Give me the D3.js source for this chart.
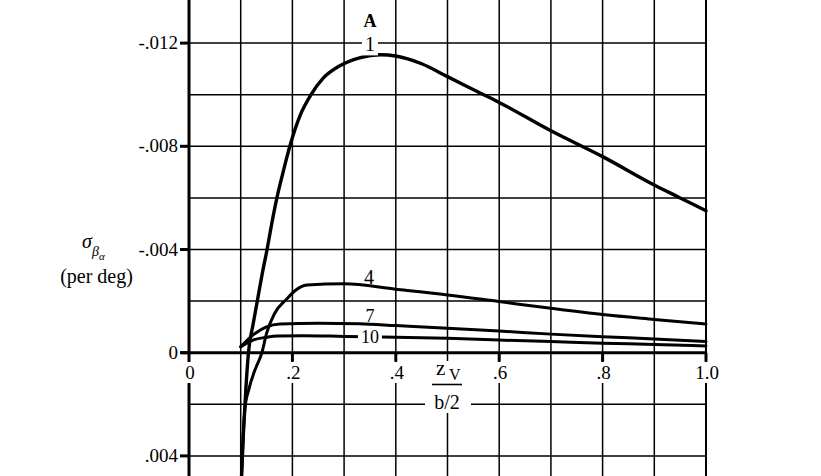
<!DOCTYPE html>
<html><head><meta charset="utf-8">
<script src="https://cdn.jsdelivr.net/npm/d3@7"></script>
<style>
body{margin:0;background:#fff}
svg{display:block;background:#fff}
text{font-family:"Liberation Serif","Times New Roman",serif;fill:#000}
</style>
</head><body>
<svg id="c" width="821" height="476"></svg>
<script>
// ---- data ----
const xTicks = [0, 0.2, 0.4, 0.6, 0.8, 1.0];
const xTickLabels = ["0", ".2", ".4", ".6", ".8", "1.0"];
const yTicks = [-0.012, -0.008, -0.004, 0, 0.004];
const yTickLabels = ["-.012", "-.008", "-.004", "0", ".004"];
const xGrid = [0.1, 0.2, 0.3, 0.4, 0.5, 0.6, 0.7, 0.8, 0.9, 1.0];
const yGrid = [-0.014, -0.012, -0.010, -0.008, -0.006, -0.004, -0.002, 0.002, 0.004, 0.006];
const seriesNames = ["1", "4", "7", "10"];
const curve1 = [[0.100,0.0056],[0.105,0.0032],[0.110,0.0014],[0.115,0.0000],[0.124,-0.0011],[0.133,-0.0021],[0.142,-0.0031],[0.151,-0.0040],[0.160,-0.0050],[0.170,-0.0060],[0.182,-0.0070],[0.195,-0.0080],[0.215,-0.0092],[0.236,-0.0100],[0.260,-0.01065],[0.290,-0.0111],[0.330,-0.01143],[0.370,-0.01155],[0.400,-0.0115],[0.450,-0.0112],[0.500,-0.0107],[0.570,-0.0100],[0.600,-0.0097],[0.700,-0.0086],[0.800,-0.0076],[0.900,-0.0065],[0.950,-0.0060],[1.000,-0.0055]];
const curve4 = [[0.100,0.0056],[0.108,0.0022],[0.116,0.0014],[0.127,0.0007],[0.141,0.0000],[0.150,-0.00075],[0.165,-0.0015],[0.190,-0.0021],[0.205,-0.0024],[0.228,-0.00262],[0.300,-0.00267],[0.400,-0.00246],[0.500,-0.00224],[0.600,-0.00198],[0.700,-0.00172],[0.800,-0.00148],[0.900,-0.00129],[1.000,-0.00111]];
const curve7 = [[0.100,-0.00023],[0.124,-0.00069],[0.150,-0.0010],[0.176,-0.00111],[0.250,-0.00114],[0.330,-0.00112],[0.400,-0.00105],[0.500,-0.00095],[0.600,-0.00084],[0.700,-0.00072],[0.800,-0.00062],[0.900,-0.00053],[1.000,-0.00043]];
const curve10 = [[0.100,-0.00023],[0.124,-0.00049],[0.150,-0.0006],[0.170,-0.00065],[0.220,-0.00066],[0.300,-0.00063],[0.400,-0.0006],[0.500,-0.00056],[0.600,-0.00049],[0.700,-0.00043],[0.800,-0.00037],[0.900,-0.00032],[1.000,-0.00026]];
const curves = [curve1, curve4, curve7, curve10];
// label anchors (data units)
const labelX = [0.350, 0.348, 0.350, 0.350];
const labelY = [-0.01195, -0.00294, -0.00147, -0.00066];
const headerLabel = "A";

// ---- drawing ----
const svg = d3.select("#c");
const x = d3.scaleLinear().domain([0, 1]).range([189, 706]);
const y = d3.scaleLinear().domain([0, 0.004]).range([352.7, 455.9]);
const yTop = -0.014, yBot = 0.006;

const g = svg.append("g");
// grid
g.selectAll("line.vg").data(xGrid).join("line")
  .attr("x1", d => x(d)).attr("x2", d => x(d))
  .attr("y1", y(yTop)).attr("y2", y(yBot))
  .attr("stroke", "#000").attr("stroke-width", d => d === 1 ? 2 : 1.5);
g.selectAll("line.hg").data(yGrid).join("line")
  .attr("x1", x(0)).attr("x2", x(1))
  .attr("y1", d => y(d)).attr("y2", d => y(d))
  .attr("stroke", "#000").attr("stroke-width", 1.5);

// axes lines
g.append("line").attr("x1", x(0)).attr("x2", x(0)).attr("y1", y(yTop)).attr("y2", y(yBot))
  .attr("stroke", "#000").attr("stroke-width", 3);
g.append("line").attr("x1", x(0) - 8).attr("x2", x(1) + 1).attr("y1", y(0)).attr("y2", y(0))
  .attr("stroke", "#000").attr("stroke-width", 3);

function bgText(sel, str, px, py, size, opts = {}) {
  const t = sel.append("text").attr("x", px).attr("y", py)
    .attr("font-size", size).attr("text-anchor", opts.anchor || "middle")
    .attr("font-weight", opts.weight || "normal").text(str);
  if (opts.bg) {
    const b = t.node().getBBox();
    const p = opts.pad || 1;
    sel.insert("rect", () => t.node())
      .attr("x", b.x - p).attr("y", b.y + (opts.padTop || 0)).attr("width", b.width + 2 * p)
      .attr("height", b.height - (opts.padTop || 0)).attr("fill", "#fff");
  }
  return t;
}

// x ticks
const xt = svg.append("g");
xTicks.forEach((v, i) => {
  if (v > 0) xt.append("line").attr("x1", x(v)).attr("x2", x(v)).attr("y1", y(0)).attr("y2", y(0) + 9)
    .attr("stroke", "#000").attr("stroke-width", 3);
  bgText(xt, xTickLabels[i], x(v) + 1, 379, 19, { bg: true, pad: 1 });
});
// y ticks
const yt = svg.append("g");
yTicks.forEach((v, i) => {
  yt.append("line").attr("x1", x(0) - 9).attr("x2", x(0)).attr("y1", y(v)).attr("y2", y(v))
    .attr("stroke", "#000").attr("stroke-width", 3);
  yt.append("text").attr("x", x(0) - 11).attr("y", y(v) + 6).attr("text-anchor", "end")
    .attr("font-size", 19).text(yTickLabels[i]);
});

// curves
const line = d3.line().x(d => x(d[0])).y(d => y(d[1])).curve(d3.curveMonotoneX);
svg.append("g").selectAll("path").data(curves).join("path")
  .attr("d", line).attr("fill", "none").attr("stroke", "#000")
  .attr("stroke-width", (d, i) => i === 0 ? 3.4 : 3).attr("stroke-linecap", "round");

// curve labels
const lg = svg.append("g");
const labelSize = [20, 20, 18, 18];
seriesNames.forEach((s, i) => {
  bgText(lg, s, x(labelX[i]), y(labelY[i]) + 7, labelSize[i], { bg: i === 0 || i === 3, pad: 3, padTop: 4 });
});
bgText(lg, headerLabel, x(0.35), 27, 18, { weight: "bold" });

// axis titles
const at = svg.append("g");
at.append("rect").attr("x", 425).attr("y", 361).attr("width", 46).attr("height", 52).attr("fill", "#fff");
at.append("text").attr("x", 436).attr("y", 375).attr("font-size", 21).text("z");
at.append("text").attr("x", 449).attr("y", 380).attr("font-size", 16).text("V");
at.append("line").attr("x1", 432).attr("x2", 462).attr("y1", 384.5).attr("y2", 384.5)
  .attr("stroke", "#000").attr("stroke-width", 1.6);
at.append("text").attr("x", 447).attr("y", 409).attr("text-anchor", "middle").attr("font-size", 20).text("b/2");

at.append("text").attr("x", 82).attr("y", 248).attr("font-size", 20).attr("font-style", "italic").text("σ");
at.append("text").attr("x", 92).attr("y", 256).attr("font-size", 14).attr("font-style", "italic").text("β");
at.append("text").attr("x", 99).attr("y", 260).attr("font-size", 11).attr("font-style", "italic").text("α");
at.append("text").attr("x", 96.5).attr("y", 283).attr("text-anchor", "middle").attr("font-size", 20).text("(per deg)");
</script>
</body></html>
